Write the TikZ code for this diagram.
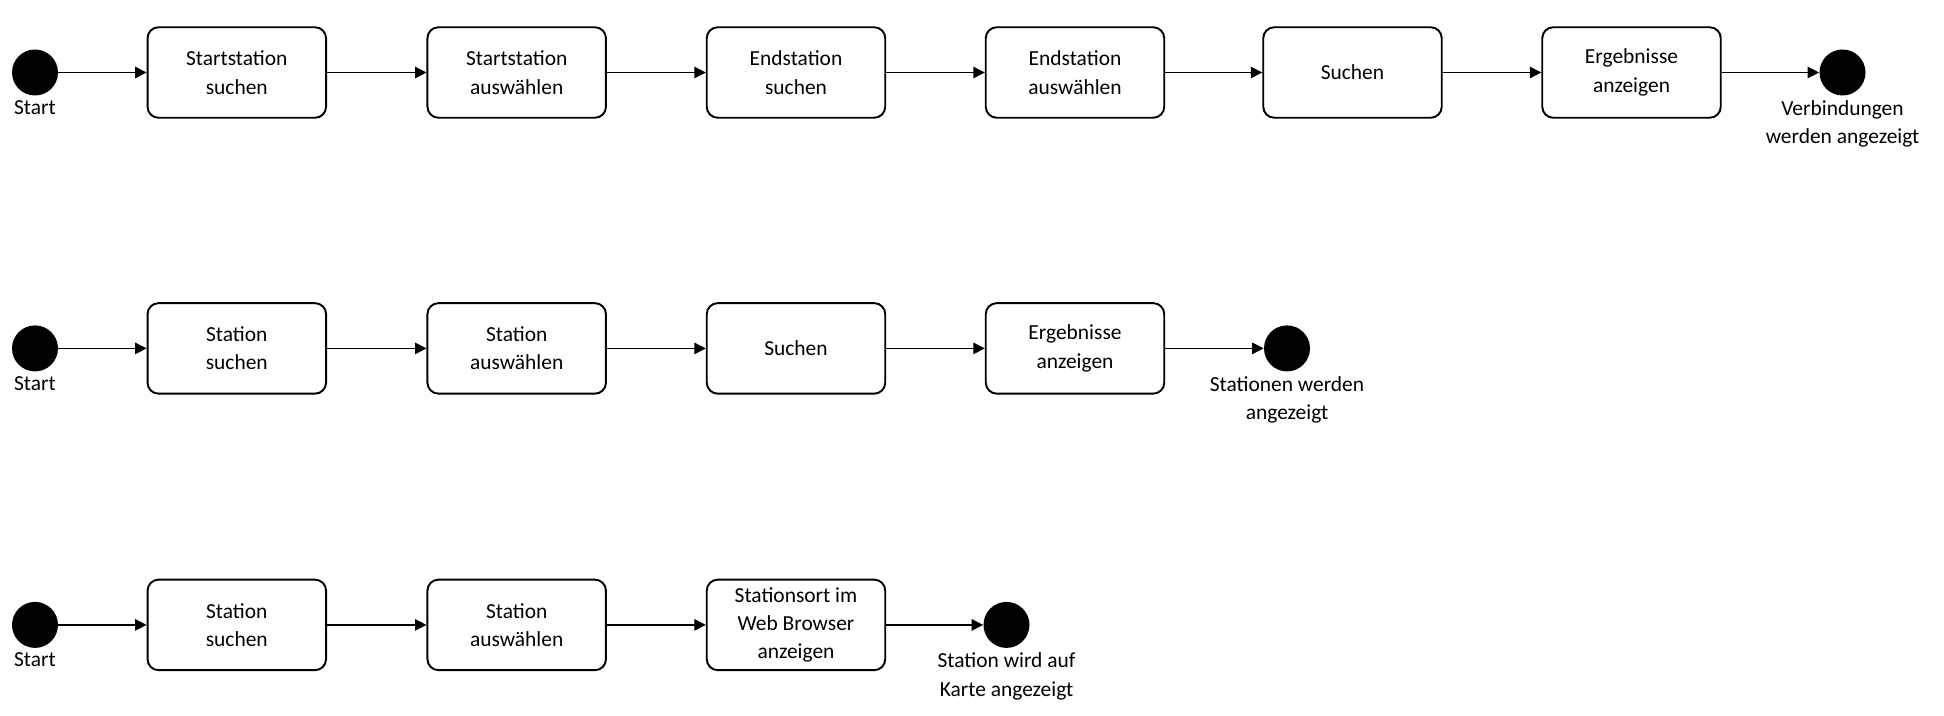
\documentclass[tikz,border=0pt]{standalone}
\usepackage{fontspec}
\setmainfont{Carlito}
\usetikzlibrary{arrows.meta}

\begin{document}
\begin{tikzpicture}[
  font=\fontsize{12.2}{16.2}\selectfont,
  act/.style={draw,line width=1.1pt,rounded corners=0.22cm,minimum width=3.57cm,minimum height=1.81cm,align=center,inner sep=2pt},
  dot/.style={circle,fill=black,minimum size=0.92cm,inner sep=0pt},
  lbl/.style={inner sep=2.5pt,align=center},
  flow/.style={line width=0.7pt,-{Triangle[length=6.5pt,width=6.5pt]}}
]
\useasboundingbox (0,0) rectangle (38.88,-14.32);
% Verbindung suchen
\node[dot] (s1) at (0.70,-1.45) {};
\node[lbl,below] at (s1.south) {Start};
\node[act] (a1) at (4.736,-1.45) {Startstation\\suchen};
\node[act] (a2) at (10.334,-1.45) {Startstation\\auswählen};
\node[act] (a3) at (15.92,-1.45) {Endstation\\suchen};
\node[act] (a4) at (21.50,-1.45) {Endstation\\auswählen};
\node[act] (a5) at (27.05,-1.45) {Suchen};
\node[act] (a6) at (32.63,-1.45) {Ergebnisse\\anzeigen};
\node[dot] (e1) at (36.85,-1.45) {};
\node[lbl,below] at (e1.south) {Verbindungen\\werden angezeigt};
\draw[flow] (s1)--(a1);
\draw[flow] (a1)--(a2);
\draw[flow] (a2)--(a3);
\draw[flow] (a3)--(a4);
\draw[flow] (a4)--(a5);
\draw[flow] (a5)--(a6);
\draw[flow] (a6)--(e1);
% Station suchen
\node[dot] (s2) at (0.70,-6.968) {};
\node[lbl,below] at (s2.south) {Start};
\node[act] (b1) at (4.736,-6.968) {Station\\suchen};
\node[act] (b2) at (10.334,-6.968) {Station\\auswählen};
\node[act] (b3) at (15.92,-6.968) {Suchen};
\node[act] (b4) at (21.50,-6.968) {Ergebnisse\\anzeigen};
\node[dot] (e2) at (25.74,-6.968) {};
\node[lbl,below] at (e2.south) {Stationen werden\\angezeigt};
\draw[flow] (s2)--(b1);
\draw[flow] (b1)--(b2);
\draw[flow] (b2)--(b3);
\draw[flow] (b3)--(b4);
\draw[flow] (b4)--(e2);
% Station auf Karte
\node[dot] (s3) at (0.70,-12.498) {};
\node[lbl,below] at (s3.south) {Start};
\node[act] (c1) at (4.736,-12.498) {Station\\suchen};
\node[act] (c2) at (10.334,-12.498) {Station\\auswählen};
\node[act] (c3) at (15.92,-12.498) {Stationsort im\\Web Browser\\anzeigen};
\node[dot] (e3) at (20.13,-12.498) {};
\node[lbl,below] at (e3.south) {Station wird auf\\Karte angezeigt};
\draw[flow] (s3)--(c1);
\draw[flow] (c1)--(c2);
\draw[flow] (c2)--(c3);
\draw[flow] (c3)--(e3);
\end{tikzpicture}
\end{document}
